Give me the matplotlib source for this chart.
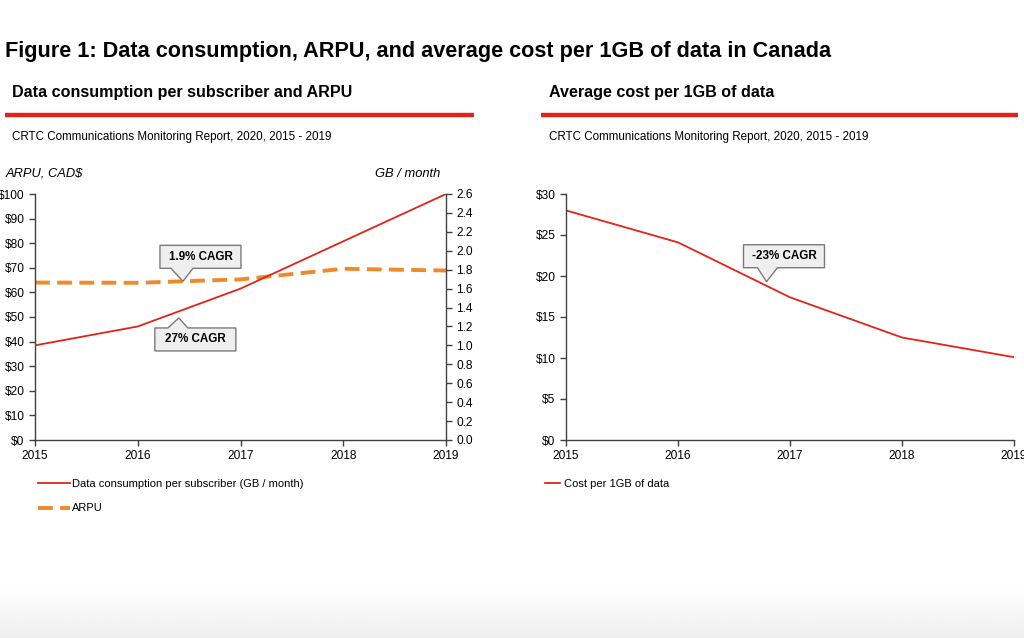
import numpy as np
import matplotlib
matplotlib.use("Agg")
import matplotlib.pyplot as plt
from matplotlib import font_manager
from matplotlib.lines import Line2D
from matplotlib.patches import Polygon
from matplotlib.transforms import ScaledTranslation
from matplotlib.ticker import FuncFormatter, MultipleLocator

# data
years = [2015, 2016, 2017, 2018, 2019]
gb_per_month = [1.0, 1.2, 1.6, 2.1, 2.6]
arpu = [64.0, 63.9, 65.3, 69.6, 68.9]
cost_per_gb = [28.0, 24.1, 17.4, 12.5, 10.1]

title = "Figure 1: Data consumption, ARPU, and average cost per 1GB of data in Canada"
left_title = "Data consumption per subscriber and ARPU"
right_title = "Average cost per 1GB of data"
source = "CRTC Communications Monitoring Report, 2020, 2015 - 2019"

RED = "#e2231a"
ORANGE = "#ee8a2a"
AXC = "#404040"

# narrow font if it is there, else the normal one at tuned sizes
try:
    font_manager.findfont("Liberation Sans Narrow", fallback_to_default=False)
    FAM = "Liberation Sans Narrow"
    SZ = dict(title=18, sub=13.5, src=10.5, lab=11, tick=10, leg=9.5, box=10)
except ValueError:
    FAM = "Liberation Sans"
    SZ = dict(title=15.6, sub=11.6, src=8.4, lab=9.3, tick=8.6, leg=8.0, box=8.4)
plt.rcParams["font.family"] = [FAM, "DejaVu Sans"]

W, H = 1024, 638
fig = plt.figure(figsize=(W / 100, H / 100), dpi=100)


def fx(px):
    return px / W


def fy(py):
    return 1 - py / H


# faint grey fade at the bottom
bg = fig.add_axes([0, 0, 1, 50 / H], zorder=-5)
grad = np.linspace(0.935, 1.0, 50).reshape(-1, 1)
bg.imshow(grad, cmap="gray", vmin=0, vmax=1, aspect="auto", origin="lower")
bg.axis("off")

# headings
fig.text(fx(5), fy(51), title, fontsize=SZ["title"], fontweight="bold", va="center")
for x0, x1, tx, t in [(5, 474, 12, left_title), (541, 1018, 549, right_title)]:
    fig.text(fx(tx), fy(92), t, fontsize=SZ["sub"], fontweight="bold", va="center")
    fig.add_artist(Line2D([fx(x0), fx(x1)], [fy(115), fy(115)], transform=fig.transFigure,
                          color=RED, lw=3.2, solid_capstyle="butt"))
    fig.text(fx(tx), fy(137), source, fontsize=SZ["src"], va="center")

fig.text(fx(6), fy(174), "ARPU, CAD$", fontsize=SZ["lab"], style="italic", va="center")
fig.text(fx(440), fy(174), "GB / month", fontsize=SZ["lab"], style="italic", va="center", ha="right")


def style_axis(ax):
    ax.spines["top"].set_visible(False)
    for s in ax.spines.values():
        s.set_color(AXC)
        s.set_linewidth(1.0)
    ax.tick_params(colors=AXC, labelcolor="black", labelsize=SZ["tick"], length=4, width=1)
    ax.set_xlim(2015, 2019)
    ax.set_xticks(years)
    ax.set_facecolor("none")


def callout(ax, x, y, text, box, base):
    # box = (left, right, near edge, far edge) in px from the tip
    l, r, e, f = [v / 100 for v in box]
    bl, br = base[0] / 100, base[1] / 100
    trans = fig.dpi_scale_trans + ScaledTranslation(x, y, ax.transData)
    pts = [(0, 0), (br, e), (r, e), (r, f), (l, f), (l, e), (bl, e)]
    ax.add_patch(Polygon(pts, closed=True, transform=trans, facecolor="#efefef",
                         edgecolor="#7a7a7a", lw=1.0, zorder=10, clip_on=False))
    ax.text((l + r) / 2, (e + f) / 2, text, transform=trans, ha="center", va="center",
            fontsize=SZ["box"], fontweight="bold", zorder=11)


# left chart
ax = fig.add_axes([fx(35), fy(440), fx(446 - 35), (440 - 194) / H])
ax2 = ax.twinx()
style_axis(ax)
style_axis(ax2)
ax.spines["right"].set_visible(False)
ax2.spines["left"].set_visible(False)
ax2.spines["bottom"].set_visible(False)

ax.plot(years, arpu, color=ORANGE, lw=2.8, dashes=(3.8, 1.9), label="ARPU")
ax.set_ylim(0, 100)
ax.yaxis.set_major_locator(MultipleLocator(10))
ax.yaxis.set_major_formatter(FuncFormatter(lambda v, p: f"${v:.0f}"))

ax2.plot(years, gb_per_month, color=RED, lw=1.3,
         label="Data consumption per subscriber (GB / month)")
ax2.set_ylim(0, 2.6)
ax2.yaxis.set_major_locator(MultipleLocator(0.2))
ax2.yaxis.set_major_formatter(FuncFormatter(lambda v, p: f"{v:.1f}"))

callout(ax, 2016.44, 64.5, "1.9% CAGR", (-23, 58, 13, 36), (-12, 10))
callout(ax2, 2016.40, 1.29, "27% CAGR", (-24, 57, -10, -33), (-11, 9))

h1, l1 = ax2.get_legend_handles_labels()
h2, l2 = ax.get_legend_handles_labels()
fig.legend(h1 + h2, l1 + l2, loc="upper left", bbox_to_anchor=(fx(38), fy(479)),
           frameon=False, fontsize=SZ["leg"], handlelength=2.9, handletextpad=0.2,
           labelspacing=1.3, borderpad=0, borderaxespad=0)

# right chart
axr = fig.add_axes([fx(566), fy(440), fx(1014 - 566), (440 - 194) / H])
style_axis(axr)
axr.spines["right"].set_visible(False)
axr.plot(years, cost_per_gb, color=RED, lw=1.3, label="Cost per 1GB of data")
axr.set_ylim(0, 30)
axr.yaxis.set_major_locator(MultipleLocator(5))
axr.yaxis.set_major_formatter(FuncFormatter(lambda v, p: f"${v:.0f}"))
callout(axr, 2016.79, 19.3, "-23% CAGR", (-23, 58, 14, 37), (-9, 11))
axr.legend(loc="upper left", bbox_to_anchor=(fx(545), fy(479)), bbox_transform=fig.transFigure,
           frameon=False, fontsize=SZ["leg"], handlelength=1.35, handletextpad=0.4,
           borderpad=0, borderaxespad=0)

fig.savefig("out.png", dpi=100)
